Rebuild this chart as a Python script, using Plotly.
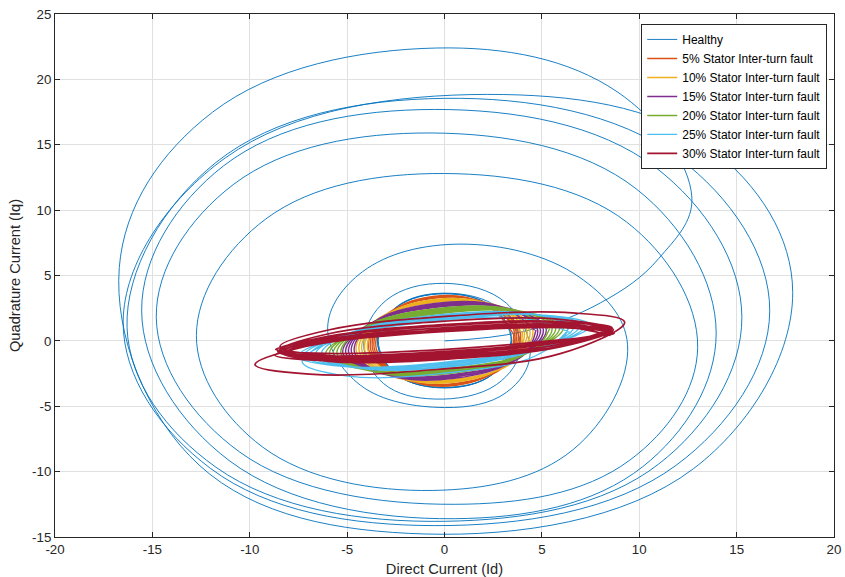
import plotly.graph_objects as go

# ---------------- data (Id, Iq) ----------------
healthy = [
    (0, 0), (4.0, 0.7), (8.0, 2.9), (11.0, 6.3), (12.7, 11.0), (8.86, 19.06),
    (-0.4, 22.4), (-11.92, 17.48), (-16.7, 5.6), (-12.6, -9.5), (-1.0, -14.77), (12.78, -9.78), (17.88, 3.7), (13.65, 14.76),
    (2.2, 18.85), (-11.26, 13.99), (-16.5, 1.5), (-12.02, -9.75), (-0.5, -14.13), (11.88, -9.53), (16.7, 2.3), (12.02, 14.0),
    (0.0, 18.55), (-11.74, 13.64), (-16.3, 1.0), (-11.74, -9.66), (0.0, -13.8), (10.99, -9.43), (15.27, 1.8), (10.85, 13.25),
    (-0.5, 17.7), (-11.34, 13.39), (-15.55, 2.3), (-11.06, -9.15), (0.5, -13.6), (10.18, -9.62), (13.95, 0.6), (9.85, 11.62),
    (-0.7, 15.9), (-10.85, 11.95), (-14.8, 1.8), (-10.52, -8.5), (0.5, -12.5), (9.5, -9.14), (13.0, -0.5), (9.36, 9.08),
    (0.0, 12.8), (-9.17, 9.33), (-12.74, 0.4), (-9.34, -8.12), (-0.6, -11.44), (6.6, -8.32), (9.4, -0.3), (6.9, 4.9),
    (0.85, 7.4), (-4.2, 5.3), (-6.0, 1.0), (-4.32, -3.39), (0.0, -5.1), (3.17, -3.95), (4.4, -1.0), (3.17, 2.89),
    (0.0, 4.4), (-2.99, 3.11), (-4.15, -0.2), (-3.13, -3.26), (-0.5, -4.45), (2.67, -3.34), (3.9, -0.5), (2.81, 2.49),
    (0.0, 3.65), (-2.48, 2.59), (-3.45, 0.0), (-2.48, -2.57), (0.0, -3.55), (2.48, -2.55), (3.45, 0.0), (2.48, 2.59),
    (0.0, 3.6), (-2.45, 2.56), (-3.4, 0.05), (-2.45, -2.56), (0.0, -3.6), (2.45, -2.57), (3.42, 0.0), (2.45, 2.58),
    (0.0, 3.62), (-2.47, 2.57), (-3.43, 0.0), (-2.47, -2.56), (0.0, -3.58), (2.47, -2.55), (3.44, 0.02),
]

fault5 = [
    (3.50, 0.62), (2.05, 2.84), (-0.60, 3.40), (-2.90, 1.97), (-3.50, -0.62), (-2.05, -2.84), (0.60, -3.40), (2.90, -1.97),
    (3.60, 0.63), (2.13, 2.82), (-0.59, 3.35), (-2.96, 1.92), (-3.60, -0.63), (-2.13, -2.82), (0.59, -3.35), (2.96, -1.92),
    (3.69, 0.65), (2.20, 2.81), (-0.59, 3.33), (-3.03, 1.89), (-3.69, -0.65), (-2.20, -2.81), (0.59, -3.33), (3.03, -1.89),
    (3.79, 0.67), (2.27, 2.79), (-0.58, 3.28), (-3.09, 1.85), (-3.79, -0.67), (-2.27, -2.79), (0.58, -3.28), (3.09, -1.85),
    (3.89, 0.69), (2.35, 2.78), (-0.57, 3.25), (-3.16, 1.81), (-3.89, -0.69), (-2.35, -2.78), (0.57, -3.25), (3.16, -1.81),
    (3.55, 0.65),
]

fault10 = [
    (3.94, 0.69), (2.39, 2.72), (-0.56, 3.15), (-3.18, 1.74), (-3.94, -0.69), (-2.39, -2.72), (0.56, -3.15), (3.18, -1.74),
    (4.09, 0.72), (2.50, 2.70), (-0.55, 3.10), (-3.28, 1.68), (-4.09, -0.72), (-2.50, -2.70), (0.55, -3.10), (3.28, -1.68),
    (4.24, 0.75), (2.61, 2.69), (-0.54, 3.05), (-3.38, 1.63), (-4.24, -0.75), (-2.61, -2.69), (0.54, -3.05), (3.38, -1.63),
    (4.38, 0.77), (2.72, 2.67), (-0.53, 3.00), (-3.47, 1.58), (-4.38, -0.77), (-2.72, -2.67), (0.53, -3.00), (3.47, -1.58),
    (4.53, 0.80), (2.83, 2.65), (-0.52, 2.95), (-3.57, 1.52), (-4.53, -0.80), (-2.83, -2.65), (0.52, -2.95), (3.57, -1.52),
    (4.00, 0.70),
]

fault15 = [
    (4.63, 0.82), (2.92, 2.60), (-0.50, 2.86), (-3.63, 1.44), (-4.63, -0.82), (-2.92, -2.60), (0.50, -2.86), (3.63, -1.44),
    (4.78, 0.84), (3.03, 2.55), (-0.49, 2.76), (-3.72, 1.35), (-4.78, -0.84), (-3.03, -2.55), (0.49, -2.76), (3.72, -1.35),
    (4.92, 0.87), (3.14, 2.53), (-0.48, 2.71), (-3.82, 1.30), (-4.92, -0.87), (-3.14, -2.53), (0.48, -2.71), (3.82, -1.30),
    (5.07, 0.89), (3.26, 2.48), (-0.46, 2.61), (-3.91, 1.21), (-5.07, -0.89), (-3.26, -2.48), (0.46, -2.61), (3.91, -1.21),
    (5.22, 0.92), (3.37, 2.46), (-0.45, 2.56), (-4.01, 1.16), (-5.22, -0.92), (-3.37, -2.46), (0.45, -2.56), (4.01, -1.16),
    (4.70, 0.83),
]

fault20 = [
    (5.32, 0.94), (3.45, 2.40), (-0.43, 2.46), (-4.07, 1.08), (-5.32, -0.94), (-3.45, -2.40), (0.43, -2.46), (4.07, -1.08),
    (5.52, 0.97), (3.60, 2.36), (-0.42, 2.36), (-4.19, 0.98), (-5.52, -0.97), (-3.60, -2.36), (0.42, -2.36), (4.19, -0.98),
    (5.71, 1.01), (3.76, 2.31), (-0.40, 2.27), (-4.32, 0.89), (-5.71, -1.01), (-3.76, -2.31), (0.40, -2.27), (4.32, -0.89),
    (5.91, 1.04), (3.91, 2.27), (-0.38, 2.17), (-4.45, 0.80), (-5.91, -1.04), (-3.91, -2.27), (0.38, -2.17), (4.45, -0.80),
    (6.11, 1.08), (4.06, 2.22), (-0.37, 2.07), (-4.58, 0.70), (-6.11, -1.08), (-4.06, -2.22), (0.37, -2.07), (4.58, -0.70),
    (5.40, 0.95),
]

fault25 = [
    (6.51, 0.60), (4.27, 1.67), (-0.71, 1.48), (-5.51, 0.12), (-7.31, -1.60), (-5.07, -2.67), (-0.09, -2.48), (4.71, -1.12),
    (6.32, 1.00), (4.25, 2.10), (-0.31, 1.98), (-4.69, 0.69), (-6.32, -1.00), (-4.25, -2.10), (0.31, -1.98), (4.69, -0.69),
    (6.62, 1.05), (4.47, 2.07), (-0.30, 1.88), (-4.89, 0.59), (-6.62, -1.05), (-4.47, -2.07), (0.30, -1.88), (4.89, -0.59),
    (6.91, 1.10), (4.69, 2.03), (-0.28, 1.78), (-5.09, 0.48), (-6.91, -1.10), (-4.69, -2.03), (0.28, -1.78), (5.09, -0.48),
    (7.21, 1.14), (4.91, 1.99), (-0.27, 1.68), (-5.29, 0.38), (-7.21, -1.14), (-4.91, -1.99), (0.27, -1.68), (5.29, -0.38),
    (7.51, 1.19), (5.13, 1.96), (-0.25, 1.58), (-5.48, 0.28), (-7.51, -1.19), (-5.13, -1.96), (0.25, -1.58), (5.48, -0.28),
    (6.40, 1.00),
]

fault30 = [
    (8.53, 0.42), (5.73, 1.15), (-0.78, 0.79), (-7.19, -0.44), (-9.73, -1.82), (-6.93, -2.55), (-0.42, -2.19), (5.99, -0.96),
    (9.25, 1.43), (6.55, 2.14), (0.25, 1.89), (-5.96, 0.83), (-8.45, -0.43), (-5.75, -1.14), (0.55, -0.89), (6.76, 0.17),
    (8.26, 0.65), (5.76, 1.22), (-0.11, 1.00), (-5.92, 0.10), (-8.26, -0.95), (-5.76, -1.52), (0.11, -1.30), (5.92, -0.40),
    (8.51, 0.87), (5.92, 1.65), (-0.14, 1.49), (-6.12, 0.49), (-8.51, -0.77), (-5.92, -1.55), (0.14, -1.39), (6.12, -0.39),
    (8.41, 0.91), (5.87, 1.45), (-0.11, 1.20), (-6.02, 0.30), (-8.41, -0.71), (-5.87, -1.25), (0.11, -1.00), (6.02, -0.10),
    (8.56, 0.82), (6.00, 1.15), (-0.08, 0.80), (-6.11, -0.02), (-8.56, -0.82), (-6.00, -1.15), (0.08, -0.80), (6.11, 0.02),
    (8.51, 0.77), (5.95, 1.27), (-0.10, 1.00), (-6.09, 0.11), (-8.51, -0.87), (-5.95, -1.37), (0.10, -1.10), (6.09, -0.21),
    (8.61, 0.98), (6.02, 1.44), (-0.10, 1.15), (-6.16, 0.27), (-8.61, -0.68), (-6.02, -1.14), (0.10, -0.85), (6.16, 0.03),
    (8.36, 0.71), (5.82, 1.38), (-0.13, 1.19), (-6.00, 0.25), (-8.36, -0.91), (-5.82, -1.58), (0.13, -1.39), (6.00, -0.45),
    (8.67, 0.86), (6.08, 1.16), (-0.07, 0.85), (-6.17, 0.09), (-8.67, -0.66), (-6.08, -0.96), (0.07, -0.65), (6.17, 0.11),
    (8.71, 0.59), (6.09, 1.01), (-0.09, 0.70), (-6.22, -0.17), (-8.71, -1.09), (-6.09, -1.51), (0.09, -1.20), (6.22, -0.33),
    (8.46, 0.86), (5.90, 1.47), (-0.12, 1.24), (-6.06, 0.32), (-8.46, -0.76), (-5.90, -1.37), (0.12, -1.14), (6.06, -0.22),
    (8.30, 0.80),
]

series_names = [
    "Healthy", "5% Stator Inter-turn fault", "10% Stator Inter-turn fault",
    "15% Stator Inter-turn fault", "20% Stator Inter-turn fault",
    "25% Stator Inter-turn fault", "30% Stator Inter-turn fault",
]
series_data = [healthy, fault5, fault10, fault15, fault20, fault25, fault30]
series_colors = ["#0072BD", "#D95319", "#EDB120", "#7E2F8E", "#77AC30", "#4DBEEE", "#A2142F"]
series_widths = [0.9, 1.4, 1.4, 1.4, 1.4, 1.3, 1.7]

x_ticks = [-20, -15, -10, -5, 0, 5, 10, 15, 20]
y_ticks = [-15, -10, -5, 0, 5, 10, 15, 20, 25]

# ---------------- figure ----------------
FONT = "Liberation Sans, Arial, Helvetica, sans-serif"
fig = go.Figure()
for name, pts, col, w in zip(series_names, series_data, series_colors, series_widths):
    fig.add_trace(go.Scatter(
        x=[p[0] for p in pts], y=[p[1] for p in pts], mode="lines", name=name,
        line=dict(color=col, width=w, shape="spline", smoothing=1.1),
    ))

axis_common = dict(
    showgrid=True, gridcolor="#e0e0e0", gridwidth=1, zeroline=False,
    showline=True, linecolor="#262626", linewidth=1, mirror="ticks",
    ticks="inside", ticklen=5, tickcolor="#262626", automargin=False,
    tickfont=dict(family=FONT, size=13.3, color="#262626"),
)
fig.update_xaxes(range=[-20, 20], tickvals=x_ticks, ticktext=[str(v) for v in x_ticks],
                 title=dict(text="Direct Current (Id)", font=dict(family=FONT, size=14.67, color="#262626"), standoff=7),
                 **axis_common)
fig.update_yaxes(range=[-15, 25], tickvals=y_ticks, ticktext=[str(v) for v in y_ticks],
                 title=dict(text="Quadrature Current (Iq)", font=dict(family=FONT, size=14.67, color="#262626"), standoff=7),
                 **axis_common)

fig.update_layout(
    width=845, height=577,
    margin=dict(l=55, r=11, t=14, b=40),
    paper_bgcolor="white", plot_bgcolor="white",
    font=dict(family=FONT, size=12, color="#262626"),
    showlegend=True,
    legend=dict(x=0.9913, y=0.981, xanchor="right", yanchor="top",
                bgcolor="white", bordercolor="#262626", borderwidth=1,
                font=dict(family=FONT, size=12, color="#000000"),
                itemwidth=30, tracegroupgap=0),
)
fig.write_html("out.html")
